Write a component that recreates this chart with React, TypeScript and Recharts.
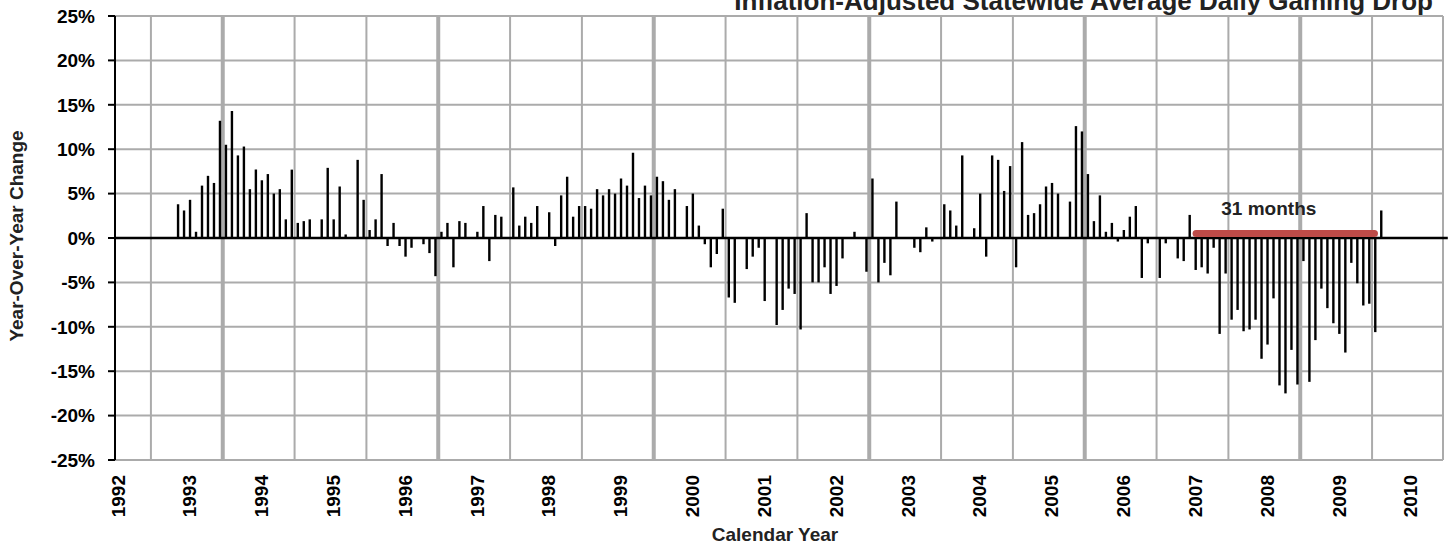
import React from 'react';
import {
  ComposedChart,
  Bar,
  XAxis,
  YAxis,
  CartesianGrid,
  ReferenceLine,
  ReferenceDot,
  Label,
  Customized,
} from 'recharts';

// year-over-year change (%), one value per month
// 1992 starts in November, 2009 ends in August
const y1992 = [3.8, 3.1];
const y1993 = [4.3, 0.7, 5.9, 7.0, 6.2, 13.2, 10.5, 14.3, 9.3, 10.3, 5.5, 7.7];
const y1994 = [6.5, 7.2, 5.0, 5.5, 2.1, 7.7, 1.7, 1.9, 2.1, 0, 2.1, 7.9];
const y1995 = [2.1, 5.8, 0.4, 0, 8.8, 4.3, 0.9, 2.1, 7.2, -0.9, 1.7, -0.9];
const y1996 = [-2.1, -1.1, 0, -0.7, -1.7, -4.3, 0.7, 1.7, -3.3, 1.9, 1.7, 0];
const y1997 = [0.7, 3.6, -2.6, 2.6, 2.4, 0, 5.7, 1.4, 2.4, 1.7, 3.6, 0];
const y1998 = [2.9, -0.9, 4.8, 6.9, 2.4, 3.6, 3.6, 3.3, 5.5, 4.8, 5.5, 5.0];
const y1999 = [6.7, 5.9, 9.6, 4.5, 5.9, 4.8, 6.9, 6.4, 4.3, 5.5, 0, 3.6];
const y2000 = [5.0, 1.4, -0.7, -3.3, -1.8, 3.3, -6.7, -7.3, 0, -3.5, -2.1, -1.1];
const y2001 = [-7.1, 0, -9.8, -8.1, -5.7, -6.3, -10.3, 2.8, -5.0, -5.0, -3.3, -6.3];
const y2002 = [-5.4, -2.3, 0, 0.7, 0, -3.8, 6.7, -5.0, -2.8, -4.2, 4.1, 0];
const y2003 = [0, -1.1, -1.6, 1.2, -0.4, 0, 3.8, 3.1, 1.4, 9.3, 0, 1.1];
const y2004 = [5.0, -2.1, 9.3, 8.8, 5.3, 8.1, -3.3, 10.8, 2.6, 2.8, 3.8, 5.8];
const y2005 = [6.2, 5.0, 0, 4.1, 12.6, 12.0, 7.2, 1.9, 4.8, 0.7, 1.7, -0.4];
const y2006 = [0.9, 2.4, 3.6, -4.5, -0.6, 0, -4.5, -0.6, 0, -2.3, -2.6, 2.6];
const y2007 = [-3.6, -3.3, -4.0, -1.1, -10.8, -4.0, -9.2, -8.1, -10.5, -10.3, -9.2, -13.6];
const y2008 = [-12.0, -6.8, -16.6, -17.5, -12.6, -16.5, -2.6, -16.2, -11.5, -5.7, -7.9, -9.6];
const y2009 = [-10.8, -12.9, -2.8, -5.1, -7.6, -7.4, -10.6, 3.1];

const years = [
  { year: 1992, firstMonth: 10, values: y1992 },
  { year: 1993, firstMonth: 0, values: y1993 },
  { year: 1994, firstMonth: 0, values: y1994 },
  { year: 1995, firstMonth: 0, values: y1995 },
  { year: 1996, firstMonth: 0, values: y1996 },
  { year: 1997, firstMonth: 0, values: y1997 },
  { year: 1998, firstMonth: 0, values: y1998 },
  { year: 1999, firstMonth: 0, values: y1999 },
  { year: 2000, firstMonth: 0, values: y2000 },
  { year: 2001, firstMonth: 0, values: y2001 },
  { year: 2002, firstMonth: 0, values: y2002 },
  { year: 2003, firstMonth: 0, values: y2003 },
  { year: 2004, firstMonth: 0, values: y2004 },
  { year: 2005, firstMonth: 0, values: y2005 },
  { year: 2006, firstMonth: 0, values: y2006 },
  { year: 2007, firstMonth: 0, values: y2007 },
  { year: 2008, firstMonth: 0, values: y2008 },
  { year: 2009, firstMonth: 0, values: y2009 },
];

const FIRST_YEAR = 1992;
const yearTicks = [1992, 1993, 1994, 1995, 1996, 1997, 1998, 1999, 2000, 2001, 2002, 2003, 2004, 2005, 2006, 2007, 2008, 2009, 2010];
const yTicks = [-25, -20, -15, -10, -5, 0, 5, 10, 15, 20, 25];

// the losing streak: 31 months starting January 2007
const streakStartYear = 2007;
const streakMonths = 31;
const streakLabel = '31 months';

const X_MAX = 221.85; // months from Jan 1992 to the right edge of the plot

const monthOf = (year: number, m: number) => (year - FIRST_YEAR) * 12 + m;

const data = years.flatMap(({ year, firstMonth, values }) =>
  values.map((v, i) => ({ m: monthOf(year, firstMonth + i) + 0.5, v }))
);

const FONT = 'Liberation Sans, Arial, Helvetica, sans-serif';
const GRID = '#ababab';

const scaleX = (props: any, m: number) => {
  const s = props?.xAxis?.scale;
  if (typeof s === 'function') return s(m);
  return props.offset.left + (m / X_MAX) * props.offset.width;
};

// thin vertical grid lines sit half way between the year labels
const thinVertical = (props: any) => {
  const pts = yearTicks.slice(0, -1).map((y) => scaleX(props, monthOf(y, 6)));
  pts.push(scaleX(props, X_MAX));
  return pts;
};
const thickVertical = (props: any) =>
  yearTicks
    .filter((y) => (y - 1993) % 3 === 0 && y < 2010)
    .map((y) => scaleX(props, monthOf(y, 6)));

const XTick = ({ x, y, payload }: any) => (
  <text
    x={x}
    y={y}
    transform={`rotate(-90, ${x}, ${y})`}
    textAnchor="end"
    dy="0.5em"
    fontSize={19}
    fontWeight="bold"
    fontFamily={FONT}
    fill="#000"
  >
    {FIRST_YEAR + payload.value / 12}
  </text>
);

const YTick = ({ x, y, payload }: any) => (
  <text x={x} y={y} textAnchor="end" dy="0.36em" fontSize={19} fontWeight="bold" fontFamily={FONT} fill="#000">
    {payload.value}%
  </text>
);

const Title = () => (
  <text x={1433} y={10} textAnchor="end" fontSize={26} fontWeight="bold" fontFamily={FONT} fill="#222">
    Inflation-Adjusted Statewide Average Daily Gaming Drop
  </text>
);

export default function App() {
  const streakStart = monthOf(streakStartYear, 0);
  return (
    <div style={{ position: 'absolute', left: 0, top: 0, background: '#fff' }}>
      <ComposedChart width={1448} height={548} data={data} margin={{ top: 16, right: 5, bottom: 0, left: 0 }}>
        <CartesianGrid stroke={GRID} strokeWidth={2} horizontal vertical verticalCoordinatesGenerator={thinVertical} />
        <CartesianGrid stroke={GRID} strokeWidth={4} horizontal={false} vertical verticalCoordinatesGenerator={thickVertical} />
        <XAxis
          dataKey="m"
          type="number"
          domain={[0, X_MAX]}
          ticks={yearTicks.map((y) => monthOf(y, 0))}
          interval={0}
          axisLine={false}
          tickLine={false}
          tickMargin={9}
          height={88}
          tick={<XTick />}
          allowDataOverflow
        >
          <Label
            content={({ viewBox }: any) => (
              <text
                x={viewBox.x + viewBox.width / 2 - 4}
                y={viewBox.y + 81}
                textAnchor="middle"
                fontSize={19}
                fontWeight="bold"
                fontFamily={FONT}
                fill="#222"
              >
                Calendar Year
              </text>
            )}
          />
        </XAxis>
        <YAxis
          type="number"
          domain={[-25, 25]}
          ticks={yTicks}
          interval={0}
          width={115}
          axisLine={{ stroke: '#000', strokeWidth: 2 }}
          tickLine={{ stroke: '#000', strokeWidth: 2 }}
          tickSize={7}
          tickMargin={13}
          tick={<YTick />}
        >
          <Label
            content={({ viewBox }: any) => {
              const cx = 16;
              const cy = viewBox.y + viewBox.height / 2 - 2;
              return (
                <text
                  x={cx}
                  y={cy}
                  transform={`rotate(-90, ${cx}, ${cy})`}
                  textAnchor="middle"
                  dy="0.35em"
                  fontSize={19}
                  fontWeight="bold"
                  fontFamily={FONT}
                  fill="#222"
                >
                  Year-Over-Year Change
                </text>
              );
            }}
          />
        </YAxis>
        <Bar dataKey="v" fill="#000" barSize={2.4} isAnimationActive={false} />
        <ReferenceLine
          segment={[{ x: 0, y: 0 }, { x: X_MAX + 0.8, y: 0 }]}
          stroke="#000"
          strokeWidth={2.5}
          ifOverflow="visible"
        />
        <ReferenceLine
          segment={[
            { x: streakStart + 0.6, y: 0.5 },
            { x: streakStart + streakMonths - 0.6, y: 0.5 },
          ]}
          stroke="#be4b48"
          strokeWidth={7}
          strokeLinecap="round"
        />
        <ReferenceDot
          x={streakStart + 12.75}
          y={2.55}
          r={0}
          fill="none"
          stroke="none"
          label={({ viewBox }: any) => (
            <text
              x={viewBox.x + viewBox.width / 2}
              y={viewBox.y + viewBox.height / 2}
              textAnchor="middle"
              fontSize={19}
              fontWeight="bold"
              fontFamily={FONT}
              fill="#222"
            >
              {streakLabel}
            </text>
          )}
        />
        <Customized component={Title} />
      </ComposedChart>
    </div>
  );
}
